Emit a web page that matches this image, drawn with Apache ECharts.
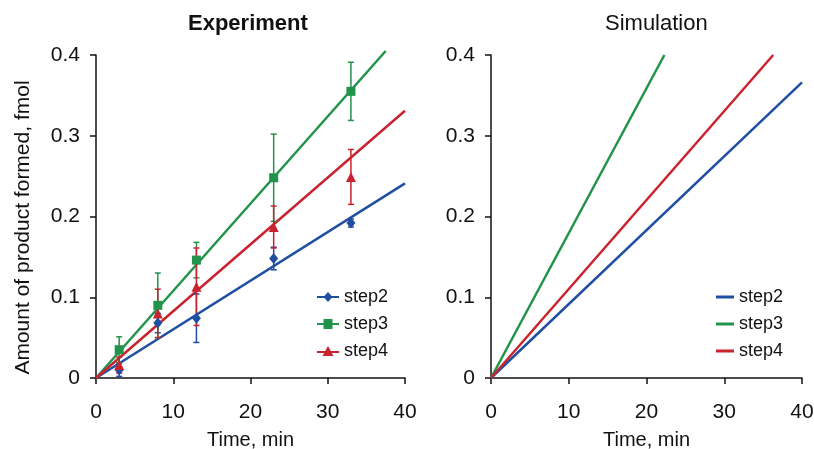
<!DOCTYPE html>
<html>
<head>
<meta charset="utf-8">
<script src="https://cdn.jsdelivr.net/npm/echarts@6/dist/echarts.min.js"></script>
<style>html,body{margin:0;padding:0;background:#fff}#c{width:814px;height:449px}</style>
</head>
<body>
<div id="c"></div>
<script>
// ---- data ----
const times = [3, 8, 13, 23, 33];
const step2 = [0.010, 0.068, 0.074, 0.148, 0.192];
const step2Err = [0.008, 0.012, 0.030, 0.014, 0.005];
const step3 = [0.035, 0.090, 0.146, 0.248, 0.355];
const step3Err = [0.016, 0.040, 0.022, 0.054, 0.036];
const step4 = [0.016, 0.080, 0.113, 0.187, 0.249];
const step4Err = [0.010, 0.030, 0.048, 0.026, 0.034];
// fitted lines (experiment), endpoints
const fit2 = [[0, 0], [40, 0.241]];
const fit3 = [[0, 0], [37.5, 0.405]];
const fit4 = [[0, 0], [40, 0.331]];
// simulation lines
const sim2 = [[0, 0], [40, 0.366]];
const sim3 = [[0, 0], [22.3, 0.4]];
const sim4 = [[0, 0], [36.3, 0.4]];
const names = ['step2', 'step3', 'step4'];
const xTicks = [0, 10, 20, 30, 40];
const yTicks = [0, 0.1, 0.2, 0.3, 0.4];

const C2 = '#1f4fa3', C3 = '#21934a', C4 = '#c8232e';
const FONT = "'Liberation Sans', Arial, sans-serif";

const chart = echarts.init(document.getElementById('c'), null, {renderer: 'canvas'});

function pts(v) { return times.map((t, i) => [t, v[i]]); }
function errs(v, e) { return times.map((t, i) => [t, v[i] - e[i], v[i] + e[i]]); }

function errSeries(name, v, e, color) {
  return {
    name: name, type: 'custom', xAxisIndex: 0, yAxisIndex: 0, z: 3,
    data: errs(v, e),
    encode: {x: 0, y: [1, 2]},
    itemStyle: {color: color},
    renderItem: function (params, api) {
      const x = api.value(0);
      const top = api.coord([x, api.value(2)]);
      const bot = api.coord([x, api.value(1)]);
      const cw = 3;
      const st = {stroke: color, lineWidth: 1.5};
      return {
        type: 'group',
        children: [
          {type: 'line', shape: {x1: top[0], y1: top[1], x2: bot[0], y2: bot[1]}, style: st},
          {type: 'line', shape: {x1: top[0] - cw, y1: top[1], x2: top[0] + cw, y2: top[1]}, style: st},
          {type: 'line', shape: {x1: bot[0] - cw, y1: bot[1], x2: bot[0] + cw, y2: bot[1]}, style: st}
        ]
      };
    }
  };
}

function axisX(gi) {
  return {
    type: 'value', gridIndex: gi, min: xTicks[0], max: xTicks[xTicks.length - 1], interval: xTicks[1] - xTicks[0],
    name: 'Time, min', nameLocation: 'middle', nameGap: 52,
    nameTextStyle: {fontFamily: FONT, fontSize: 20, color: '#111'},
    axisLine: {show: true, onZero: false, lineStyle: {color: '#111', width: 1.5}},
    axisTick: {show: true, length: 6, lineStyle: {color: '#111', width: 1.5}},
    axisLabel: {fontFamily: FONT, fontSize: 21, color: '#111', margin: 24,
      formatter: v => String(v)},
    splitLine: {show: false}
  };
}
function axisY(gi, named) {
  return {
    type: 'value', gridIndex: gi, min: yTicks[0], max: yTicks[yTicks.length - 1], interval: 0.1,
    name: named ? 'Amount of product formed, fmol' : '', nameLocation: 'middle', nameGap: 62,
    nameTextStyle: {fontFamily: FONT, fontSize: 21, color: '#111', padding: [0, 22, 0, 0]},
    axisLine: {show: true, onZero: false, lineStyle: {color: '#111', width: 1.5}},
    axisTick: {show: true, length: 6, lineStyle: {color: '#111', width: 1.5}},
    axisLabel: {fontFamily: FONT, fontSize: 21, color: '#111', margin: 16,
      formatter: v => (Math.round(v * 10) / 10).toString()},
    splitLine: {show: false}
  };
}

const icon2 = 'path://M0,4 L22,4 L22,6 L0,6 Z M11,0 L15.5,5 L11,10 L6.5,5 Z';
const icon3 = 'path://M0,4 L22,4 L22,6 L0,6 Z M6.5,0.5 L15.5,0.5 L15.5,9.5 L6.5,9.5 Z';
const icon4 = 'path://M0,5 L22,5 L22,7 L0,7 Z M11,0 L16.5,10 L5.5,10 Z';

const option = {
  animation: false,
  textStyle: {fontFamily: FONT},
  title: [
    {text: 'Experiment', left: 188, top: 13, padding: 0,
      textStyle: {fontFamily: FONT, fontSize: 22, fontWeight: 'bold', color: '#111'}},
    {text: 'Simulation', left: 605, top: 13, padding: 0,
      textStyle: {fontFamily: FONT, fontSize: 22, fontWeight: 'normal', color: '#111'}}
  ],
  grid: [
    {left: 96, top: 55, width: 309, height: 323, containLabel: false, outerBoundsMode: 'none'},
    {left: 491, top: 55, width: 311, height: 323, containLabel: false, outerBoundsMode: 'none'}
  ],
  xAxis: [axisX(0), axisX(1)],
  yAxis: [axisY(0, true), axisY(1, false)],
  legend: [
    {orient: 'vertical', left: 312, top: 283, itemWidth: 22, itemHeight: 10, itemGap: 9,
      selectedMode: false, symbolKeepAspect: false,
      textStyle: {fontFamily: FONT, fontSize: 18, color: '#111'},
      data: [
        {name: names[0], icon: icon2, itemStyle: {color: C2}},
        {name: names[1], icon: icon3, itemStyle: {color: C3}},
        {name: names[2], icon: icon4, itemStyle: {color: C4}}
      ]},
    {orient: 'vertical', left: 711, top: 283, itemWidth: 18, itemHeight: 3, itemGap: 9,
      selectedMode: false,
      textStyle: {fontFamily: FONT, fontSize: 18, color: '#111'},
      data: [
        {name: 'sim ' + names[0], icon: 'rect', itemStyle: {color: C2}},
        {name: 'sim ' + names[1], icon: 'rect', itemStyle: {color: C3}},
        {name: 'sim ' + names[2], icon: 'rect', itemStyle: {color: C4}}
      ],
      formatter: n => n.replace('sim ', '')}
  ],
  series: [
    // fitted lines
    {name: 'fit2', type: 'line', xAxisIndex: 0, yAxisIndex: 0, data: fit2, showSymbol: false, symbol: 'none',
      clip: false, z: 2, lineStyle: {color: C2, width: 2.5}},
    {name: 'fit3', type: 'line', xAxisIndex: 0, yAxisIndex: 0, data: fit3, showSymbol: false, symbol: 'none',
      clip: false, z: 2, lineStyle: {color: C3, width: 2.5}},
    {name: 'fit4', type: 'line', xAxisIndex: 0, yAxisIndex: 0, data: fit4, showSymbol: false, symbol: 'none',
      clip: false, z: 2, lineStyle: {color: C4, width: 2.5}},
    // error bars
    errSeries('err2', step2, step2Err, C2),
    errSeries('err3', step3, step3Err, C3),
    errSeries('err4', step4, step4Err, C4),
    // points
    {name: names[0], type: 'scatter', xAxisIndex: 0, yAxisIndex: 0, data: pts(step2), z: 5,
      symbol: 'diamond', symbolSize: [9, 11], itemStyle: {color: C2, opacity: 1}},
    {name: names[1], type: 'scatter', xAxisIndex: 0, yAxisIndex: 0, data: pts(step3), z: 5,
      symbol: 'rect', symbolSize: 9, itemStyle: {color: C3, opacity: 1}},
    {name: names[2], type: 'scatter', xAxisIndex: 0, yAxisIndex: 0, data: pts(step4), z: 5,
      symbol: 'triangle', symbolSize: [10, 10], itemStyle: {color: C4, opacity: 1}},
    // simulation
    {name: 'sim ' + names[0], type: 'line', xAxisIndex: 1, yAxisIndex: 1, data: sim2, symbol: 'none',
      lineStyle: {color: C2, width: 2.5}, itemStyle: {color: C2}},
    {name: 'sim ' + names[1], type: 'line', xAxisIndex: 1, yAxisIndex: 1, data: sim3, symbol: 'none',
      lineStyle: {color: C3, width: 2.5}, itemStyle: {color: C3}},
    {name: 'sim ' + names[2], type: 'line', xAxisIndex: 1, yAxisIndex: 1, data: sim4, symbol: 'none',
      lineStyle: {color: C4, width: 2.5}, itemStyle: {color: C4}}
  ]
};
chart.setOption(option);
</script>
</body>
</html>
